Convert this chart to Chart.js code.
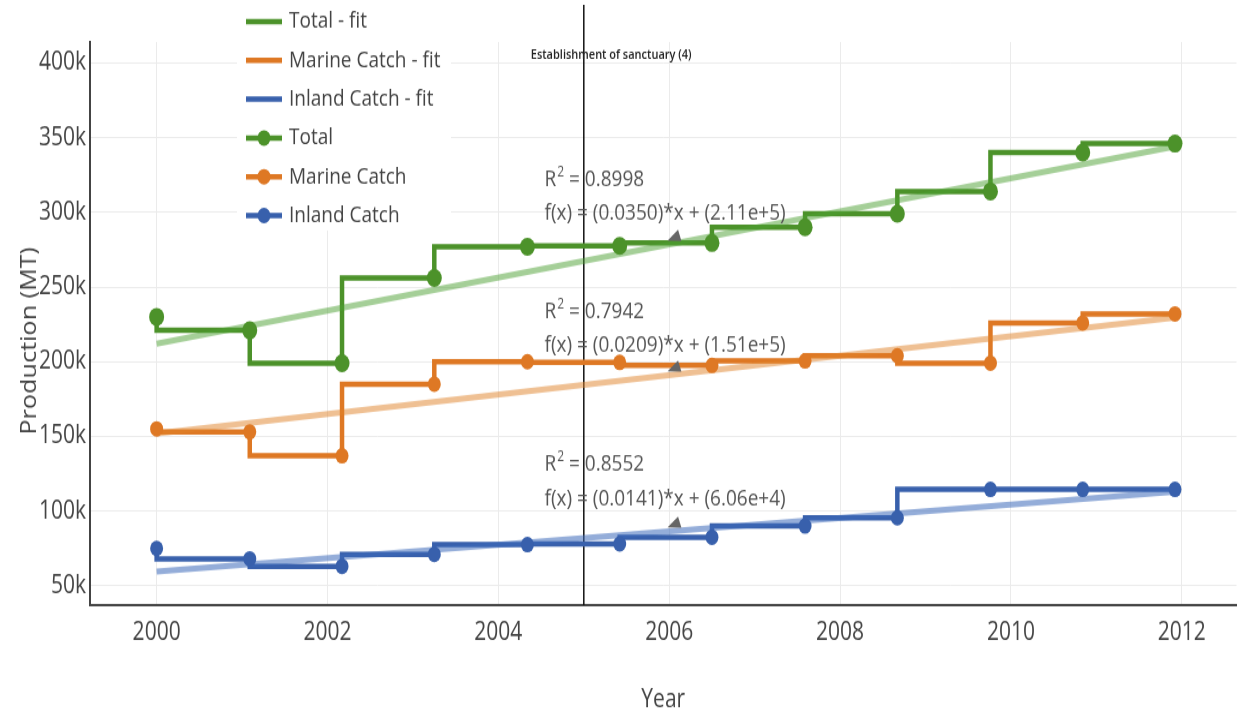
<!DOCTYPE html>
<html>
<head>
<meta charset="utf-8">
<script src="https://cdn.jsdelivr.net/npm/chart.js@4.4.1/dist/chart.umd.min.js"></script>
<style>
  html, body { margin: 0; padding: 0; background: #fff; overflow: hidden; }
</style>
</head>
<body>
<!-- the source image is stretched vertically, so the canvas bitmap (593 high) is shown at 712 -->
<canvas id="chart" width="1244" height="593" style="display:block;width:1244px;height:712px"></canvas>
<script>
// data
var years  = [2000, 2001.09, 2002.17, 2003.25, 2004.34, 2005.42, 2006.5, 2007.59, 2008.67, 2009.76, 2010.84, 2011.92];
var total  = [230000, 221000, 199000, 256000, 277000, 277500, 279500, 290000, 299000, 314000, 340000, 346000];
var marine = [155000, 153000, 137000, 185000, 200000, 199500, 197500, 200500, 204000, 199000, 226000, 232000];
var inland = [75000, 68000, 63000, 71000, 77500, 78000, 82500, 90000, 95500, 114500, 114500, 114500];

// linear trend lines (ends)
var fitYears  = [2000, 2011.92];
var totalFit  = [212000, 344000];
var marineFit = [152000, 229500];
var inlandFit = [59500, 113000];

var yTicks = [50000, 100000, 150000, 200000, 250000, 300000, 350000, 400000];

var r2Labels = ['0.8998', '0.7942', '0.8552'];
var fxLabels = ['f(x) = (0.0350)*x + (2.11e+5)', 'f(x) = (0.0209)*x + (1.51e+5)', 'f(x) = (0.0141)*x + (6.06e+4)'];

var sanctuaryYear = 2005;
var sanctuaryLabel = 'Establishment of sanctuary (4)';

var green = 'rgb(76,146,42)';
var orange = 'rgb(222,120,36)';
var blue = 'rgb(56,96,172)';

function pts(xs, ys) {
    return xs.map(function (x, i) { return {x: x, y: ys[i]}; });
}

function stepSet(label, values, color) {
    return {label: label, data: pts(years, values), showLine: true, stepped: 'after',
        borderColor: color, borderWidth: 4.5, pointRadius: 0, order: 3, inLegend: true};
}
function markerSet(label, values, color, r) {
    return {label: label, data: pts(years, values), showLine: false,
        backgroundColor: color, borderColor: color, pointRadius: r, pointHoverRadius: r,
        pointBorderWidth: 0, order: 1, inLegend: true, marker: true};
}
function fitSet(values, color) {
    return {label: '', data: pts(fitYears, values), showLine: true,
        borderColor: color, borderWidth: 5, pointRadius: 0, order: 2};
}

// annotation anchors in data units
var noteYear = 2004.54;
var noteR2Y = [321600, 233300, 131100];
var noteFxY = [299600, 211200, 108400];
var arrowYear = 2005.98;
var arrowY = [281000, 193500, 89000];

var extras = {
    id: 'extras',
    beforeDatasetsDraw: function (chart) {
        var ctx = chart.ctx, x = chart.scales.x;
        var px = x.getPixelForValue(sanctuaryYear);
        ctx.save();
        ctx.strokeStyle = '#111';
        ctx.lineWidth = 1.5;
        ctx.beginPath();
        ctx.moveTo(px, 4);
        ctx.lineTo(px, chart.chartArea.bottom);
        ctx.stroke();
        ctx.restore();
    },
    afterDatasetsDraw: function (chart) {
        var ctx = chart.ctx, x = chart.scales.x, y = chart.scales.y;
        ctx.save();

        // sanctuary label
        ctx.fillStyle = '#222';
        ctx.font = '600 11px "Open Sans"';
        ctx.textAlign = 'center';
        ctx.textBaseline = 'middle';
        ctx.fillText(sanctuaryLabel, x.getPixelForValue(2005.32), y.getPixelForValue(405000));

        // fit notes
        ctx.textAlign = 'left';
        for (var i = 0; i < r2Labels.length; i++) {
            var tx = x.getPixelForValue(noteYear);
            var ty = y.getPixelForValue(noteR2Y[i]);
            ctx.fillStyle = '#555';
            ctx.font = '19px "Open Sans"';
            ctx.fillText('R', tx, ty);
            var w = ctx.measureText('R').width;
            ctx.font = '12px "Open Sans"';
            ctx.fillText('2', tx + w + 1, ty - 6);
            var w2 = ctx.measureText('2').width;
            ctx.font = '19px "Open Sans"';
            ctx.fillText(' = ' + r2Labels[i], tx + w + w2 + 1, ty);
            ctx.fillText(fxLabels[i], tx, y.getPixelForValue(noteFxY[i]));

            // arrow head
            var ax = x.getPixelForValue(arrowYear), ay = y.getPixelForValue(arrowY[i]);
            var ux = 0.94, uy = -0.34, len = 13, hw = 5;
            ctx.fillStyle = '#666';
            ctx.beginPath();
            ctx.moveTo(ax, ay);
            ctx.lineTo(ax + ux * len - uy * hw, ay + uy * len + ux * hw);
            ctx.lineTo(ax + ux * len + uy * hw, ay + uy * len - ux * hw);
            ctx.closePath();
            ctx.fill();
        }

        // legend
        ctx.fillStyle = '#fff';
        ctx.fillRect(237, 0, 214, 192);
        var items = chart.data.datasets.filter(function (d) { return d.inLegend; });
        ctx.font = '19px "Open Sans"';
        ctx.textBaseline = 'middle';
        items.forEach(function (d, k) {
            var ly = 18 + k * 32.3;
            ctx.strokeStyle = d.borderColor;
            ctx.lineWidth = 4.5;
            ctx.beginPath();
            ctx.moveTo(246, ly);
            ctx.lineTo(282, ly);
            ctx.stroke();
            if (d.marker) {
                ctx.fillStyle = d.backgroundColor;
                ctx.beginPath();
                ctx.arc(264, ly, 6.5, 0, Math.PI * 2);
                ctx.fill();
            }
            ctx.fillStyle = '#444';
            ctx.fillText(d.label, 289, ly);
        });

        // y title, a bit below the middle as in the source
        ctx.translate(30, y.getPixelForValue(214000));
        ctx.rotate(-Math.PI / 2);
        ctx.textAlign = 'center';
        ctx.font = '21px "Open Sans"';
        ctx.fillStyle = '#444';
        ctx.fillText('Production (MT)', 0, 0);
        ctx.restore();
    }
};

Chart.defaults.font.family = '"Open Sans"';
Chart.defaults.color = '#444';

var chart = new Chart(document.getElementById('chart').getContext('2d'), {
    type: 'scatter',
    data: {
        datasets: [
            stepSet('Total - fit', total, green),
            stepSet('Marine Catch - fit', marine, orange),
            stepSet('Inland Catch - fit', inland, blue),
            markerSet('Total', total, green, 7.5),
            markerSet('Marine Catch', marine, orange, 6.5),
            markerSet('Inland Catch', inland, blue, 6.5),
            fitSet(totalFit, 'rgba(76,160,50,0.5)'),
            fitSet(marineFit, 'rgba(224,130,40,0.5)'),
            fitSet(inlandFit, 'rgba(60,105,185,0.55)')
        ]
    },
    options: {
        responsive: false,
        animation: false,
        layout: {padding: {left: 0, right: 4, top: 35, bottom: 0}},
        plugins: {legend: {display: false}, tooltip: {enabled: false}},
        scales: {
            x: {
                type: 'linear',
                min: 1999.22,
                max: 2012.64,
                afterFit: function (s) { s.height = 89; },
                grid: {color: '#ebebeb', drawTicks: false},
                border: {color: '#444', width: 2},
                ticks: {stepSize: 2, includeBounds: false, padding: 10, font: {size: 21},
                    callback: function (v) { return String(v); }},
                title: {display: true, text: 'Year', font: {size: 21}, padding: {top: 0, bottom: -3}}
            },
            y: {
                min: 37000,
                max: 414000,
                afterFit: function (s) { s.width = 90; },
                afterBuildTicks: function (s) { s.ticks = yTicks.map(function (v) { return {value: v}; }); },
                grid: {color: '#ebebeb', drawTicks: false},
                border: {color: '#444', width: 2},
                ticks: {padding: 4, font: {size: 21},
                    callback: function (v) { return (v / 1000) + 'k'; }}
            }
        }
    },
    plugins: [extras]
});
</script>
</body>
</html>
